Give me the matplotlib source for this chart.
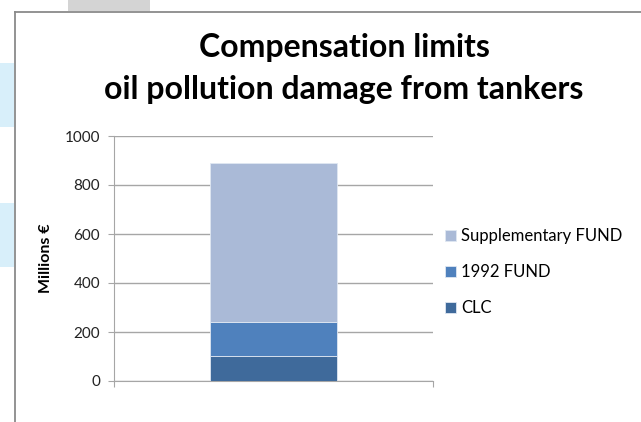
import matplotlib.pyplot as plt
from matplotlib.patches import Rectangle
from matplotlib.lines import Line2D

# data
categories = ['']
series_names = ['CLC', '1992 FUND', 'Supplementary FUND']
clc = [103]
fund_1992 = [137]
supp_fund = [649]
colors = ['#3f6a9b', '#4f81bd', '#aabad7']

plt.rcParams['font.family'] = ['Lato', 'DejaVu Sans']

fig = plt.figure(figsize=(6.41, 4.22), dpi=100)

# screenshot leftovers around the chart
fig.patches.append(Rectangle((0, 1 - 127/422), 14/641, 64/422, transform=fig.transFigure,
                             facecolor='#d8effa', edgecolor='none', zorder=0))
fig.patches.append(Rectangle((0, 1 - 267/422), 14/641, 64/422, transform=fig.transFigure,
                             facecolor='#d8effa', edgecolor='none', zorder=0))
fig.patches.append(Rectangle((68/641, 1 - 11/422), 82/641, 11/422, transform=fig.transFigure,
                             facecolor='#d4d4d4', edgecolor='none', zorder=0))
fig.lines.append(Line2D([14.5/641, 14.5/641], [0, 1 - 12/422], transform=fig.transFigure,
                        color='#8a8a8a', lw=1.3))
fig.lines.append(Line2D([14.5/641, 1], [1 - 12/422, 1 - 12/422], transform=fig.transFigure,
                        color='#8a8a8a', lw=1.3))

ax = fig.add_axes([114/641, 1 - 381/422, 319/641, 245/422])

bottom = 0
for vals, name, c in zip([clc, fund_1992, supp_fund], series_names, colors):
    ax.bar(categories, vals, width=0.4, bottom=bottom, color=c, label=name,
           edgecolor='#dfe7f2', linewidth=0.6, zorder=3)
    bottom = bottom + vals[0]

ax.set_xlim(-0.5, 0.5)
ax.set_ylim(0, 1000)
ax.set_yticks(range(0, 1001, 200))
ax.yaxis.grid(True, color='#a6a6a6', lw=1)
ax.set_axisbelow(True)
for s in ['top', 'right']:
    ax.spines[s].set_visible(False)
ax.spines['left'].set_color('#a6a6a6')
ax.spines['bottom'].set_color('#a6a6a6')
ax.tick_params(axis='y', length=4, color='#a6a6a6', labelsize=11, colors='#222222', pad=6)
ax.set_xticks([-0.5, 0.5])
ax.set_xticklabels(['', ''])
ax.tick_params(axis='x', length=4, color='#a6a6a6')

ax.set_ylabel('Millions €', fontsize=11.5, fontweight='bold', labelpad=8)

fig.text(344/641, 1 - 47/422, 'Compensation limits', ha='center', va='center',
         fontsize=23, fontweight='bold')
fig.text(344/641, 1 - 89/422, 'oil pollution damage from tankers', ha='center', va='center',
         fontsize=23, fontweight='bold')

h, l = ax.get_legend_handles_labels()
fig.legend(h[::-1], l[::-1], loc='center left', bbox_to_anchor=(430/641, 1 - 272/422),
           frameon=False, fontsize=12, handlelength=0.65, handleheight=0.65,
           handletextpad=0.3, labelspacing=1.2)

fig.savefig('out.png', dpi=100)
